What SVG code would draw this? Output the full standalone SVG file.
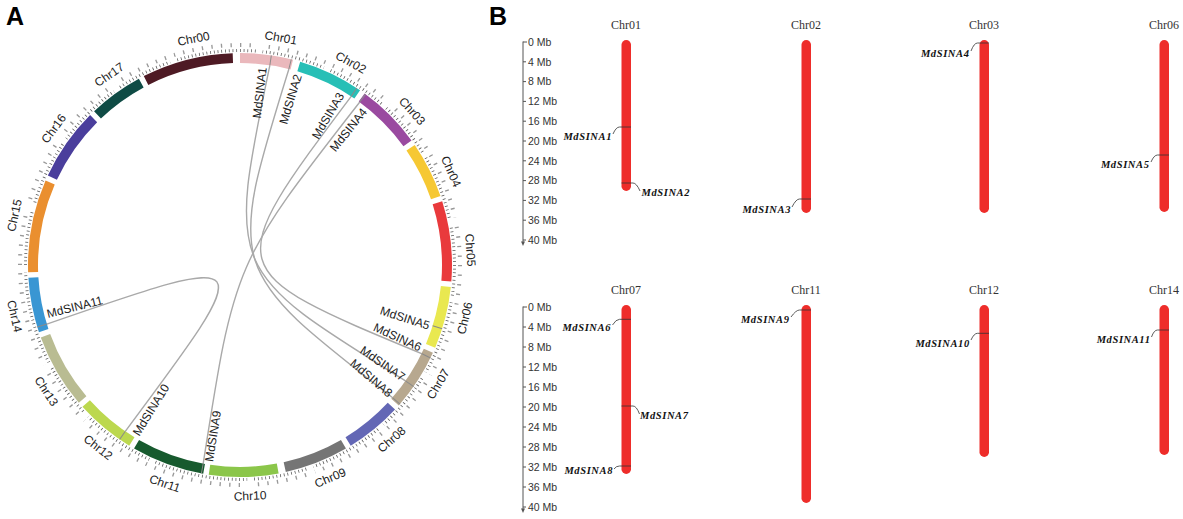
<svg xmlns="http://www.w3.org/2000/svg" width="1183" height="519" viewBox="0 0 1183 519">
<style>
.pl{font-family:"Liberation Sans",Arial,sans-serif;font-size:25px;font-weight:bold;fill:#000}
.cl{font-family:"Liberation Sans",Arial,sans-serif;font-size:12px;fill:#222;text-anchor:middle}
.gn{font-family:"Liberation Sans",Arial,sans-serif;font-size:12px;fill:#222}
.band{fill:none;stroke-width:10}
.link{fill:none;stroke:#a9a9a9;stroke-width:1.4}
.mk{stroke:#8a8a8a;stroke-width:1}
.tk{fill:none}
.ax{font-family:"Liberation Sans",Arial,sans-serif;font-size:10.5px;fill:#333}
.axl{fill:none;stroke:#555;stroke-width:1}
.ct{font-family:"Liberation Serif","Times New Roman",serif;font-size:12px;fill:#333;text-anchor:middle}
.bar{fill:#ee2d2a}
.gl{font-family:"Liberation Serif","Times New Roman",serif;font-style:italic;font-weight:bold;font-size:10.5px;letter-spacing:0.6px;fill:#111}
.ld{fill:none;stroke:#333;stroke-width:0.8}
</style>
<defs>
<mask id="tm" maskUnits="userSpaceOnUse" x="0" y="0" width="480" height="519">
<g fill="none" stroke="#fff" stroke-width="26" transform="rotate(-90 240 265)">
<circle cx="240" cy="265" r="217" pathLength="360" stroke-dasharray="25 360" stroke-dashoffset="-333"/>
<circle cx="240" cy="265" r="217" pathLength="360" stroke-dasharray="14.5 360" stroke-dashoffset="0"/>
<circle cx="240" cy="265" r="217" pathLength="360" stroke-dasharray="18 360" stroke-dashoffset="-16.5"/>
<circle cx="240" cy="265" r="217" pathLength="360" stroke-dasharray="18 360" stroke-dashoffset="-36"/>
<circle cx="240" cy="265" r="217" pathLength="360" stroke-dasharray="15.5 360" stroke-dashoffset="-55.5"/>
<circle cx="240" cy="265" r="217" pathLength="360" stroke-dasharray="22 360" stroke-dashoffset="-72.5"/>
<circle cx="240" cy="265" r="217" pathLength="360" stroke-dasharray="17 360" stroke-dashoffset="-96"/>
<circle cx="240" cy="265" r="217" pathLength="360" stroke-dasharray="17 360" stroke-dashoffset="-114.5"/>
<circle cx="240" cy="265" r="217" pathLength="360" stroke-dasharray="15.5 360" stroke-dashoffset="-133"/>
<circle cx="240" cy="265" r="217" pathLength="360" stroke-dasharray="17.5 360" stroke-dashoffset="-150"/>
<circle cx="240" cy="265" r="217" pathLength="360" stroke-dasharray="19 360" stroke-dashoffset="-169.5"/>
<circle cx="240" cy="265" r="217" pathLength="360" stroke-dasharray="20 360" stroke-dashoffset="-190"/>
<circle cx="240" cy="265" r="217" pathLength="360" stroke-dasharray="16.5 360" stroke-dashoffset="-211.5"/>
<circle cx="240" cy="265" r="217" pathLength="360" stroke-dasharray="20.5 360" stroke-dashoffset="-229.5"/>
<circle cx="240" cy="265" r="217" pathLength="360" stroke-dasharray="15 360" stroke-dashoffset="-251.5"/>
<circle cx="240" cy="265" r="217" pathLength="360" stroke-dasharray="25.5 360" stroke-dashoffset="-268"/>
<circle cx="240" cy="265" r="217" pathLength="360" stroke-dasharray="20 360" stroke-dashoffset="-295"/>
<circle cx="240" cy="265" r="217" pathLength="360" stroke-dasharray="15 360" stroke-dashoffset="-316.5"/>
</g>
</mask>
</defs>
<rect width="1183" height="519" fill="#fff"/>
<text class="pl" x="6" y="25">A</text>
<text class="pl" x="489" y="25">B</text>

<!-- ticks of the circos ring -->
<g id="ring-ticks" mask="url(#tm)" transform="rotate(-90 240 265)">
<circle class="tk" cx="240" cy="265" r="214.5" pathLength="360" stroke="#555" stroke-width="3" stroke-dasharray="0.2 0.8"/>
<circle class="tk" cx="240" cy="265" r="220" pathLength="360" stroke="#999" stroke-width="4" stroke-dasharray="0.35 2.15"/>
</g>

<!-- connectors (links) -->
<g id="links">
<path class="link" d="M269.9 65.2C227 270.6 227 270.6 405.5 380.9"/>
<path class="link" d="M288.9 69C226.6 269.2 226.6 269.2 392.4 397.5"/>
<path class="link" d="M351.2 96.4C220.5 270.3 220.5 270.3 421.6 353.6"/>
<path class="link" d="M359.6 102.2C234.5 262.6 234.5 262.6 203.2 463.6"/>
<path class="link" d="M125.3 431.3C260.5 250 260.5 250 46.8 324.1"/>
</g>

<!-- chromosomes of the circos ring -->
<g id="circ-chr00"><circle class="band" cx="240" cy="265" r="207" pathLength="360" stroke="#4e1a24" stroke-dasharray="25 360" stroke-dashoffset="-333" transform="rotate(-90 240 265)"/><text class="cl" x="240" y="34" dy="0.35em" transform="rotate(-11.6 240 265)">Chr00</text></g>
<g id="circ-chr01"><circle class="band" cx="240" cy="265" r="207" pathLength="360" stroke="#eab8bc" stroke-dasharray="14.5 360" stroke-dashoffset="0" transform="rotate(-90 240 265)"/><text class="cl" x="240" y="34" dy="0.35em" transform="rotate(10.2 240 265)">Chr01</text></g>
<g id="circ-chr02"><circle class="band" cx="240" cy="265" r="207" pathLength="360" stroke="#27bfb6" stroke-dasharray="18 360" stroke-dashoffset="-16.5" transform="rotate(-90 240 265)"/><text class="cl" x="240" y="34" dy="0.35em" transform="rotate(28.7 240 265)">Chr02</text></g>
<g id="circ-chr03"><circle class="band" cx="240" cy="265" r="207" pathLength="360" stroke="#9a4aa0" stroke-dasharray="18 360" stroke-dashoffset="-36" transform="rotate(-90 240 265)"/><text class="cl" x="240" y="34" dy="0.35em" transform="rotate(48.2 240 265)">Chr03</text></g>
<g id="circ-chr04"><circle class="band" cx="240" cy="265" r="207" pathLength="360" stroke="#f6c833" stroke-dasharray="15.5 360" stroke-dashoffset="-55.5" transform="rotate(-90 240 265)"/><text class="cl" x="240" y="34" dy="0.35em" transform="rotate(66.1 240 265)">Chr04</text></g>
<g id="circ-chr05"><circle class="band" cx="240" cy="265" r="207" pathLength="360" stroke="#e93a3c" stroke-dasharray="22 360" stroke-dashoffset="-72.5" transform="rotate(-90 240 265)"/><text class="cl" x="240" y="34" dy="0.35em" transform="rotate(86.3 240 265)">Chr05</text></g>
<g id="circ-chr06"><circle class="band" cx="240" cy="265" r="207" pathLength="360" stroke="#e9e850" stroke-dasharray="17 360" stroke-dashoffset="-96" transform="rotate(-90 240 265)"/><text class="cl" x="240" y="496" dy="0.35em" transform="rotate(-76.7 240 265)">Chr06</text></g>
<g id="circ-chr07"><circle class="band" cx="240" cy="265" r="207" pathLength="360" stroke="#b7a88f" stroke-dasharray="17 360" stroke-dashoffset="-114.5" transform="rotate(-90 240 265)"/><text class="cl" x="240" y="496" dy="0.35em" transform="rotate(-59 240 265)">Chr07</text></g>
<g id="circ-chr08"><circle class="band" cx="240" cy="265" r="207" pathLength="360" stroke="#6367b5" stroke-dasharray="15.5 360" stroke-dashoffset="-133" transform="rotate(-90 240 265)"/><text class="cl" x="240" y="496" dy="0.35em" transform="rotate(-41 240 265)">Chr08</text></g>
<g id="circ-chr09"><circle class="band" cx="240" cy="265" r="207" pathLength="360" stroke="#757575" stroke-dasharray="17.5 360" stroke-dashoffset="-150" transform="rotate(-90 240 265)"/><text class="cl" x="240" y="496" dy="0.35em" transform="rotate(-23 240 265)">Chr09</text></g>
<g id="circ-chr10"><circle class="band" cx="240" cy="265" r="207" pathLength="360" stroke="#8bc64a" stroke-dasharray="19 360" stroke-dashoffset="-169.5" transform="rotate(-90 240 265)"/><text class="cl" x="240" y="496" dy="0.35em" transform="rotate(-2.5 240 265)">Chr10</text></g>
<g id="circ-chr11"><circle class="band" cx="240" cy="265" r="207" pathLength="360" stroke="#175a2e" stroke-dasharray="20 360" stroke-dashoffset="-190" transform="rotate(-90 240 265)"/><text class="cl" x="240" y="496" dy="0.35em" transform="rotate(19 240 265)">Chr11</text></g>
<g id="circ-chr12"><circle class="band" cx="240" cy="265" r="207" pathLength="360" stroke="#bcd84f" stroke-dasharray="16.5 360" stroke-dashoffset="-211.5" transform="rotate(-90 240 265)"/><text class="cl" x="240" y="496" dy="0.35em" transform="rotate(37.9 240 265)">Chr12</text></g>
<g id="circ-chr13"><circle class="band" cx="240" cy="265" r="207" pathLength="360" stroke="#b9bc92" stroke-dasharray="20.5 360" stroke-dashoffset="-229.5" transform="rotate(-90 240 265)"/><text class="cl" x="240" y="496" dy="0.35em" transform="rotate(56.9 240 265)">Chr13</text></g>
<g id="circ-chr14"><circle class="band" cx="240" cy="265" r="207" pathLength="360" stroke="#3996d3" stroke-dasharray="15 360" stroke-dashoffset="-251.5" transform="rotate(-90 240 265)"/><text class="cl" x="240" y="496" dy="0.35em" transform="rotate(77.2 240 265)">Chr14</text></g>
<g id="circ-chr15"><circle class="band" cx="240" cy="265" r="207" pathLength="360" stroke="#ea8f2f" stroke-dasharray="25.5 360" stroke-dashoffset="-268" transform="rotate(-90 240 265)"/><text class="cl" x="240" y="34" dy="0.35em" transform="rotate(-77.6 240 265)">Chr15</text></g>
<g id="circ-chr16"><circle class="band" cx="240" cy="265" r="207" pathLength="360" stroke="#4a3e9c" stroke-dasharray="20 360" stroke-dashoffset="-295" transform="rotate(-90 240 265)"/><text class="cl" x="240" y="34" dy="0.35em" transform="rotate(-53.8 240 265)">Chr16</text></g>
<g id="circ-chr17"><circle class="band" cx="240" cy="265" r="207" pathLength="360" stroke="#0f4b45" stroke-dasharray="15 360" stroke-dashoffset="-316.5" transform="rotate(-90 240 265)"/><text class="cl" x="240" y="34" dy="0.35em" transform="rotate(-34.5 240 265)">Chr17</text></g>

<!-- gene positions on the ring -->
<g id="circ-genes">
<line class="mk" x1="240" y1="53" x2="240" y2="63" transform="rotate(8.5 240 265)"/>
<line class="mk" x1="240" y1="53" x2="240" y2="63" transform="rotate(14 240 265)"/>
<line class="mk" x1="240" y1="53" x2="240" y2="63" transform="rotate(33.4 240 265)"/>
<line class="mk" x1="240" y1="53" x2="240" y2="63" transform="rotate(36.3 240 265)"/>
<line class="mk" x1="240" y1="53" x2="240" y2="63" transform="rotate(107.5 240 265)"/>
<line class="mk" x1="240" y1="53" x2="240" y2="63" transform="rotate(116 240 265)"/>
<line class="mk" x1="240" y1="53" x2="240" y2="63" transform="rotate(125 240 265)"/>
<line class="mk" x1="240" y1="53" x2="240" y2="63" transform="rotate(131 240 265)"/>
<line class="mk" x1="240" y1="53" x2="240" y2="63" transform="rotate(190.5 240 265)"/>
<line class="mk" x1="240" y1="53" x2="240" y2="63" transform="rotate(214.6 240 265)"/>
<line class="mk" x1="240" y1="53" x2="240" y2="63" transform="rotate(253 240 265)"/>
<text class="gn" x="439" y="265" dy="0.35em" text-anchor="end" transform="rotate(-83.5 240 265)">MdSINA1</text>
<text class="gn" x="439" y="265" dy="0.35em" text-anchor="end" transform="rotate(-73.1 240 265)">MdSINA2</text>
<text class="gn" x="439" y="265" dy="0.35em" text-anchor="end" transform="rotate(-59.5 240 265)">MdSINA3</text>
<text class="gn" x="439" y="265" dy="0.35em" text-anchor="end" transform="rotate(-51.3 240 265)">MdSINA4</text>
<text class="gn" x="439" y="265" dy="0.35em" text-anchor="end" transform="rotate(17.8 240 265)">MdSINA5</text>
<text class="gn" x="439" y="265" dy="0.35em" text-anchor="end" transform="rotate(24.6 240 265)">MdSINA6</text>
<text class="gn" x="439" y="265" dy="0.35em" text-anchor="end" transform="rotate(34.6 240 265)">MdSINA7</text>
<text class="gn" x="439" y="265" dy="0.35em" text-anchor="end" transform="rotate(40.7 240 265)">MdSINA8</text>
<text class="gn" x="41" y="265" dy="0.35em" text-anchor="start" transform="rotate(279 240 265)">MdSINA9</text>
<text class="gn" x="41" y="265" dy="0.35em" text-anchor="start" transform="rotate(301.6 240 265)">MdSINA10</text>
<text class="gn" x="41" y="265" dy="0.35em" text-anchor="start" transform="rotate(345.8 240 265)">MdSINA11</text>
</g>

<!-- panel B axes -->
<g id="axis-top">
<path class="axl" d="M523 41.5V243M523 42H527M523 61.8H526M523 81.6H526M523 101.4H526M523 121.2H526M523 141H526M523 160.8H526M523 180.6H526M523 200.4H526M523 220.2H526M523 240H526"/>
<path d="M521 241.5L525 241.5L523 246Z" fill="#555"/>
<text class="ax" x="528" y="45.8">0 Mb</text>
<text class="ax" x="528" y="65.6">4 Mb</text>
<text class="ax" x="528" y="85.4">8 Mb</text>
<text class="ax" x="528" y="105.2">12 Mb</text>
<text class="ax" x="528" y="125">16 Mb</text>
<text class="ax" x="528" y="144.8">20 Mb</text>
<text class="ax" x="528" y="164.6">24 Mb</text>
<text class="ax" x="528" y="184.4">28 Mb</text>
<text class="ax" x="528" y="204.2">32 Mb</text>
<text class="ax" x="528" y="224">36 Mb</text>
<text class="ax" x="528" y="243.8">40 Mb</text>
</g>
<g id="axis-bottom">
<path class="axl" d="M523 306.5V510M523 307H527M523 327H526M523 347H526M523 367H526M523 387H526M523 407H526M523 427H526M523 447H526M523 467H526M523 487H526M523 507H526"/>
<path d="M521 508.5L525 508.5L523 513Z" fill="#555"/>
<text class="ax" x="528" y="310.8">0 Mb</text>
<text class="ax" x="528" y="330.8">4 Mb</text>
<text class="ax" x="528" y="350.8">8 Mb</text>
<text class="ax" x="528" y="370.8">12 Mb</text>
<text class="ax" x="528" y="390.8">16 Mb</text>
<text class="ax" x="528" y="410.8">20 Mb</text>
<text class="ax" x="528" y="430.8">24 Mb</text>
<text class="ax" x="528" y="450.8">28 Mb</text>
<text class="ax" x="528" y="470.8">32 Mb</text>
<text class="ax" x="528" y="490.8">36 Mb</text>
<text class="ax" x="528" y="510.8">40 Mb</text>
</g>

<!-- panel B chromosomes -->
<g id="bar-chr01">
<text class="ct" x="626" y="29">Chr01</text>
<rect class="bar" x="621.5" y="40" width="9.5" height="151" rx="4.75"/>
<path class="ld" d="M631 127H619.5Q616 127 613 134"/>
<text class="gl" x="612" y="139.5" text-anchor="end">MdSINA1</text>
<path class="ld" d="M621.5 183H633Q636.5 183 640 191"/>
<text class="gl" x="641.5" y="196">MdSINA2</text>
</g>
<g id="bar-chr02">
<text class="ct" x="806" y="29">Chr02</text>
<rect class="bar" x="801.5" y="40" width="9.5" height="173" rx="4.75"/>
<path class="ld" d="M811 199H799.5Q796 199 792 207"/>
<text class="gl" x="791" y="213" text-anchor="end">MdSINA3</text>
</g>
<g id="bar-chr03">
<text class="ct" x="984" y="29">Chr03</text>
<rect class="bar" x="979.5" y="40" width="9.5" height="173" rx="4.75"/>
<path class="ld" d="M989 43H977.5Q974 43 971 51"/>
<text class="gl" x="969.5" y="57" text-anchor="end">MdSINA4</text>
</g>
<g id="bar-chr06">
<text class="ct" x="1164" y="29">Chr06</text>
<rect class="bar" x="1159.5" y="40" width="9.5" height="172" rx="4.75"/>
<path class="ld" d="M1169 155H1157.5Q1154 155 1151 162"/>
<text class="gl" x="1149.5" y="168" text-anchor="end">MdSINA5</text>
</g>
<g id="bar-chr07">
<text class="ct" x="626" y="294">Chr07</text>
<rect class="bar" x="621.5" y="305" width="9.5" height="169" rx="4.75"/>
<path class="ld" d="M631 319.3H619.5Q616 319.3 612.5 325"/>
<text class="gl" x="611" y="330.5" text-anchor="end">MdSINA6</text>
<path class="ld" d="M621.5 406H633Q636.5 406 639.5 414"/>
<text class="gl" x="640" y="419">MdSINA7</text>
<path class="ld" d="M631 466H619.5Q616 466 614 469"/>
<text class="gl" x="613" y="474" text-anchor="end">MdSINA8</text>
</g>
<g id="bar-chr11">
<text class="ct" x="806" y="294">Chr11</text>
<rect class="bar" x="801.5" y="305" width="9.5" height="198" rx="4.75"/>
<path class="ld" d="M811 310H799.5Q796 310 791 317"/>
<text class="gl" x="789.5" y="323" text-anchor="end">MdSINA9</text>
</g>
<g id="bar-chr12">
<text class="ct" x="984" y="294">Chr12</text>
<rect class="bar" x="979.5" y="305" width="9.5" height="152" rx="4.75"/>
<path class="ld" d="M989 333.3H977.5Q974 333.3 971 340"/>
<text class="gl" x="969.8" y="346.5" text-anchor="end">MdSINA10</text>
</g>
<g id="bar-chr14">
<text class="ct" x="1164" y="294">Chr14</text>
<rect class="bar" x="1159.5" y="305" width="9.5" height="150" rx="4.75"/>
<path class="ld" d="M1169 330H1157.5Q1154 330 1151.5 337"/>
<text class="gl" x="1150.5" y="343" text-anchor="end">MdSINA11</text>
</g>
</svg>
